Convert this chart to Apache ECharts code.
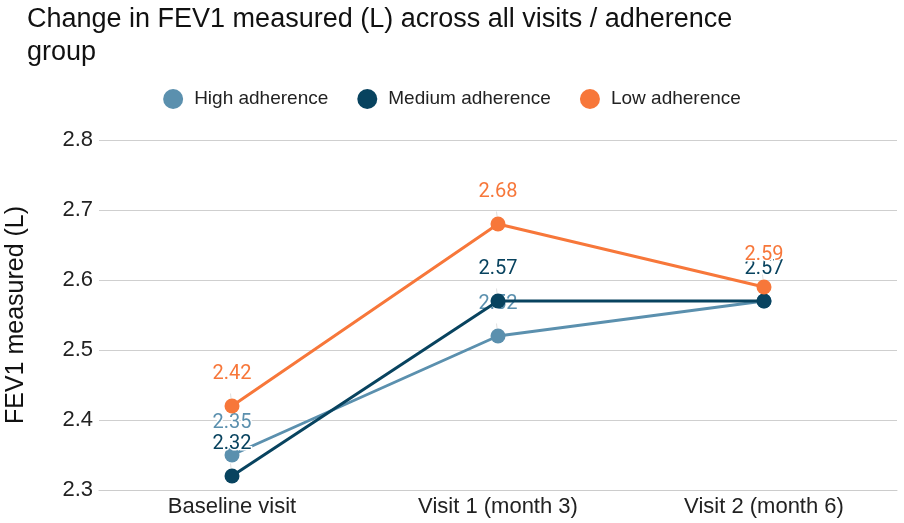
<!DOCTYPE html>
<html><head><meta charset="utf-8">
<script src="https://cdn.jsdelivr.net/npm/echarts@6/dist/echarts.min.js"></script>
<style>html,body{margin:0;padding:0;background:#fff}#c{width:904px;height:523px}</style>
</head><body><div id="c"></div>
<script>
const categories = ['Baseline visit', 'Visit 1 (month 3)', 'Visit 2 (month 6)'];
const highAdherence = [2.35, 2.52, 2.57];
const mediumAdherence = [2.32, 2.57, 2.57];
const lowAdherence = [2.42, 2.68, 2.59];
const seriesNames = ['High adherence', 'Medium adherence', 'Low adherence'];
const colors = ['#5b90ae', '#08435f', '#f7773a'];
const hiddenLabels = [[2], [], []];

const SANS = '"Liberation Sans", Arial, sans-serif';
const chart = echarts.init(document.getElementById('c'));
function mk(name, values, color, z, hidden) {
  const data = values.map((v, i) => hidden.includes(i)
    ? { value: v, label: { show: false }, labelLine: { show: false } } : v);
  return {
    name, type: 'line', data, z,
    symbol: 'circle', symbolSize: 15,
    lineStyle: { width: 3, color },
    itemStyle: { color },
    label: {
      show: true, position: 'top', distance: 15,
      color, fontFamily: 'Roboto', fontSize: 20,
      textBorderColor: '#fff', textBorderWidth: 3,
      formatter: p => p.value.toFixed(2)
    },
    labelLine: { show: true, lineStyle: { color: '#e0e0e0', width: 1 } }
  };
}
chart.setOption({
  animation: false,
  title: {
    text: 'Change in FEV1 measured (L) across all visits / adherence\ngroup',
    left: 22, top: -2,
    textStyle: { fontFamily: SANS, fontSize: 27, fontWeight: 'normal', color: '#111', lineHeight: 33 }
  },
  legend: {
    top: 84, left: 'center', icon: 'circle', itemWidth: 32, itemHeight: 20, itemGap: 29,
    textStyle: { fontFamily: SANS, fontSize: 19, color: '#222' },
    data: seriesNames
  },
  grid: { left: 99, right: 7, top: 140, bottom: 33, outerBoundsMode: 'none', containLabel: false },
  xAxis: {
    type: 'category', data: categories, boundaryGap: true,
    axisLine: { show: true, lineStyle: { color: '#ccc' } },
    axisTick: { show: false },
    axisLabel: { fontFamily: SANS, fontSize: 22, color: '#222', margin: 6 }
  },
  yAxis: {
    type: 'value', min: 2.3, max: 2.8, interval: 0.1,
    name: 'FEV1 measured (L)', nameLocation: 'middle', nameGap: 70,
    nameTextStyle: { fontFamily: SANS, fontSize: 25, color: '#111' },
    axisLine: { show: false }, axisTick: { show: false },
    axisLabel: { fontFamily: SANS, fontSize: 22, color: '#222', margin: 6, formatter: v => v.toFixed(1) },
    splitLine: { lineStyle: { color: '#cfcfcf', width: 1 } }
  },
  series: [
    mk(seriesNames[0], highAdherence, colors[0], 2, hiddenLabels[0]),
    mk(seriesNames[1], mediumAdherence, colors[1], 3, hiddenLabels[1]),
    mk(seriesNames[2], lowAdherence, colors[2], 4, hiddenLabels[2])
  ]
});
</script></body></html>
